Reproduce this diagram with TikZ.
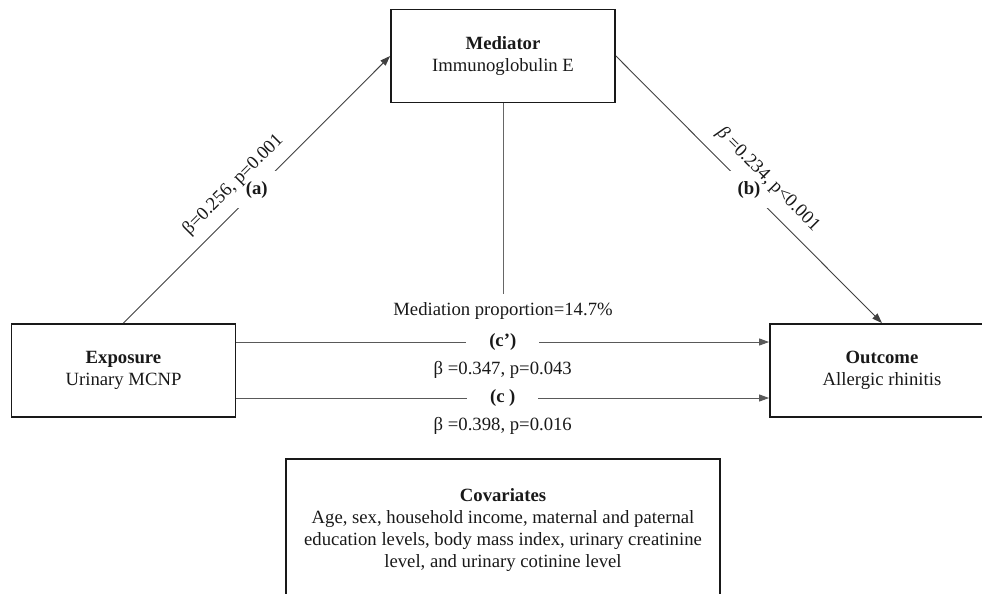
\documentclass[tikz,border=0pt]{standalone}
\usepackage{fontspec}
\setmainfont{Liberation Serif}
\usetikzlibrary{arrows.meta}

\tikzset{every picture/.style={line width=0.9pt}}

\begin{document}
\begin{tikzpicture}[
    x=1pt, y=-1pt,
    every node/.style={font=\fontsize{18.7}{22}\selectfont, text=black!90},
    varbox/.style={draw=black!90, line width=1.8pt, minimum width=224pt, minimum height=93pt, align=center,
        execute at begin node=\rule{0pt}{21pt}},
    effect/.style={draw=black!75, -{Triangle[length=10pt,width=7pt]}},
    gap/.style={fill=white, inner xsep=9pt, inner ysep=10pt},
]
    \useasboundingbox (0,0) rectangle (982,594);

    \node[varbox] (mediator) at (503,56) {\textbf{Mediator}\\Immunoglobulin E};
    \node[varbox] (exposure) at (123.5,370.5) {\textbf{Exposure}\\Urinary MCNP};
    \node[varbox] (outcome) at (882,370.5) {\textbf{Outcome}\\Allergic rhinitis};
    \node[varbox, minimum width=434pt, minimum height=142pt] (covariates) at (503,530)
        {\textbf{Covariates}\\Age, sex, household income, maternal and paternal\\education levels, body mass index, urinary creatinine\\level, and urinary cotinine level};

    \node[inner sep=8pt] (prop) at (503,311) {Mediation proportion=14.7\%};
    \draw[draw=black!60] (mediator.south) -- (prop.north);

    % indirect paths
    \draw[effect] (exposure.north) -- node[gap] (a) {\textbf{(a)}}
        node[pos=0.465, sloped, above=11pt, inner sep=0pt] {β=0.256, p=0.001} (mediator.west);
    \draw[effect] (mediator.east) -- node[gap] (b) {\textbf{(b)}}
        node[pos=0.517, sloped, above=11.5pt, inner sep=0pt] {{\itshape β} =0.234, p<0.001} (outcome.north);

    % direct and total paths
    \draw[effect, draw=black!65] ([yshift=28.5pt]exposure.east) -- node[gap, inner xsep=23pt, inner ysep=4pt] (cprime) {\textbf{(c’)}}
        node[below=19pt, inner sep=0pt] {β =0.347, p=0.043} ([yshift=28.5pt]outcome.west);
    \draw[effect, draw=black!65] ([yshift=-27.5pt]exposure.east) -- node[gap, inner xsep=23pt, inner ysep=4pt] (c) {\textbf{(c )}}
        node[below=19pt, inner sep=0pt] {β =0.398, p=0.016} ([yshift=-27.5pt]outcome.west);
\end{tikzpicture}
\end{document}
